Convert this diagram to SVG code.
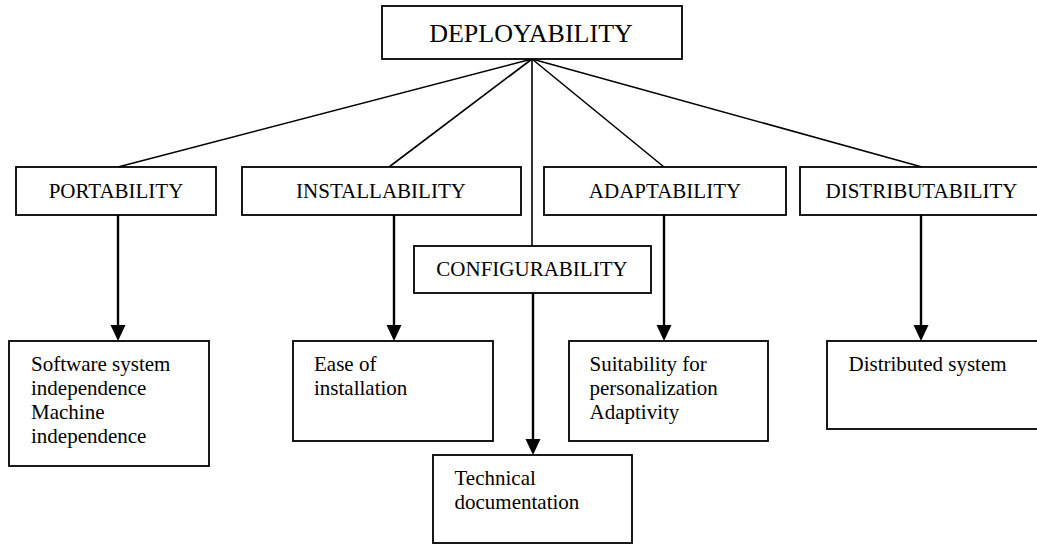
<svg xmlns="http://www.w3.org/2000/svg" width="1037" height="545" viewBox="0 0 1037 545">
<style>
.box{fill:#fff;stroke:#000;stroke-width:1.8}
.t{font-family:"Liberation Serif","Times New Roman",serif;fill:#000}
.h{font-size:26px;text-anchor:middle}
.m{font-size:21px;text-anchor:middle}
.s{font-size:21px}
.ln{stroke:#000;stroke-width:1.6;fill:none}
.ar{stroke:#000;stroke-width:2.4;fill:none}
</style>
<defs>
<marker id="ah" markerUnits="userSpaceOnUse" markerWidth="16" markerHeight="16" refX="8" refY="8" orient="auto">
<path d="M0,0.5 L16,8 L0,15.5 z" fill="#000"/>
</marker>
</defs>
<g id="connectors">
<line class="ln" x1="532" y1="59" x2="118" y2="167"/>
<line class="ln" x1="532" y1="59" x2="389" y2="167"/>
<line class="ln" x1="532" y1="59" x2="532" y2="246"/>
<line class="ln" x1="532" y1="59" x2="664" y2="167"/>
<line class="ln" x1="532" y1="59" x2="922" y2="167"/>
<line class="ar" x1="118" y1="215" x2="118" y2="333" marker-end="url(#ah)"/>
<line class="ar" x1="394" y1="215" x2="394" y2="333" marker-end="url(#ah)"/>
<line class="ar" x1="533" y1="293" x2="533" y2="447" marker-end="url(#ah)"/>
<line class="ar" x1="664" y1="215" x2="664" y2="333" marker-end="url(#ah)"/>
<line class="ar" x1="921" y1="215" x2="921" y2="333" marker-end="url(#ah)"/>
</g>
<g id="deployability">
<rect class="box" x="382" y="6" width="300" height="53"/>
<text class="t h" x="531" y="42">DEPLOYABILITY</text>
</g>
<g id="portability">
<rect class="box" x="16" y="167" width="200" height="48"/>
<text class="t m" x="116" y="197.5">PORTABILITY</text>
</g>
<g id="installability">
<rect class="box" x="242" y="167" width="279" height="48"/>
<text class="t m" x="381" y="197.5">INSTALLABILITY</text>
</g>
<g id="configurability">
<rect class="box" x="414" y="246" width="237" height="47"/>
<text class="t m" x="532" y="276">CONFIGURABILITY</text>
</g>
<g id="adaptability">
<rect class="box" x="544" y="167" width="242" height="48"/>
<text class="t m" x="665" y="197.5">ADAPTABILITY</text>
</g>
<g id="distributability">
<rect class="box" x="800" y="167" width="260" height="48"/>
<text class="t m" x="921.5" y="197.5">DISTRIBUTABILITY</text>
</g>
<g id="portability-details">
<rect class="box" x="9" y="341" width="200" height="125"/>
<text class="t s" x="31" y="371">Software system</text>
<text class="t s" x="31" y="395">independence</text>
<text class="t s" x="31" y="419">Machine</text>
<text class="t s" x="31" y="443">independence</text>
</g>
<g id="installability-details">
<rect class="box" x="293" y="341" width="200" height="100"/>
<text class="t s" x="314" y="371">Ease of</text>
<text class="t s" x="314" y="395">installation</text>
</g>
<g id="configurability-details">
<rect class="box" x="433" y="455" width="199" height="88"/>
<text class="t s" x="454.5" y="485">Technical</text>
<text class="t s" x="454.5" y="509">documentation</text>
</g>
<g id="adaptability-details">
<rect class="box" x="569" y="341" width="199" height="100"/>
<text class="t s" x="589.5" y="371">Suitability for</text>
<text class="t s" x="589.5" y="395">personalization</text>
<text class="t s" x="589.5" y="419">Adaptivity</text>
</g>
<g id="distributability-details">
<rect class="box" x="827" y="341" width="240" height="88"/>
<text class="t s" x="848.5" y="371">Distributed system</text>
</g>
</svg>
